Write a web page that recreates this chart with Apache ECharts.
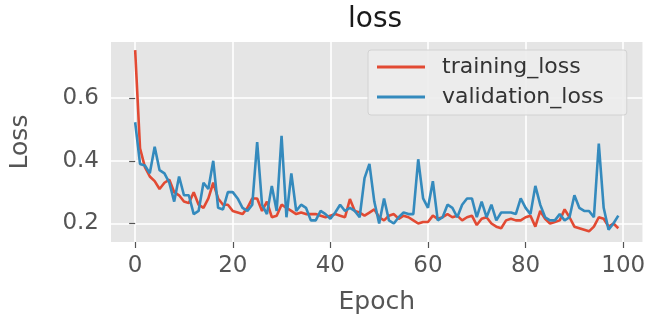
<!DOCTYPE html>
<html>
<head>
<meta charset="utf-8">
<script src="https://cdn.jsdelivr.net/npm/echarts@6/dist/echarts.min.js"></script>
<style>
  html, body { margin: 0; padding: 0; background: #fff; }
  #chart { width: 648px; height: 320px; }
</style>
</head>
<body>
<div id="chart"></div>
<script>
// epochs 0..99, values
const epochs = Array.from({ length: 100 }, (_, i) => i)

const trainingLoss = [
  0.753, 0.44, 0.38, 0.35, 0.335, 0.31, 0.33, 0.34, 0.3, 0.29,
  0.27, 0.265, 0.3, 0.26, 0.25, 0.28, 0.33, 0.28, 0.26, 0.26,
  0.24, 0.235, 0.23, 0.25, 0.28, 0.28, 0.24, 0.27, 0.22, 0.225,
  0.26, 0.25, 0.24, 0.23, 0.235, 0.23, 0.23, 0.23, 0.225, 0.22,
  0.225, 0.23, 0.225, 0.22, 0.278, 0.24, 0.235, 0.225, 0.235, 0.245,
  0.22, 0.21, 0.225, 0.23, 0.215, 0.225, 0.22, 0.21, 0.2, 0.205,
  0.205, 0.225, 0.215, 0.22, 0.23, 0.22, 0.225, 0.21, 0.22, 0.225,
  0.195, 0.215, 0.22, 0.2, 0.19, 0.185, 0.21, 0.215, 0.21, 0.21,
  0.22, 0.225, 0.19, 0.24, 0.215, 0.2, 0.205, 0.21, 0.245, 0.22,
  0.19, 0.185, 0.18, 0.175, 0.19, 0.22, 0.215, 0.19, 0.2, 0.185,
]

const validationLoss = [
  0.523, 0.39, 0.385, 0.36, 0.445, 0.37, 0.36, 0.33, 0.27, 0.35,
  0.29, 0.29, 0.23, 0.24, 0.33, 0.31, 0.4, 0.25, 0.245, 0.3,
  0.3, 0.28, 0.25, 0.24, 0.26, 0.46, 0.26, 0.23, 0.32, 0.24,
  0.48, 0.22, 0.36, 0.24, 0.26, 0.25, 0.21, 0.21, 0.24, 0.23,
  0.215, 0.235, 0.26, 0.24, 0.25, 0.24, 0.22, 0.345, 0.39, 0.27,
  0.2, 0.28, 0.21, 0.2, 0.22, 0.235, 0.23, 0.23, 0.405, 0.28,
  0.25, 0.335, 0.21, 0.22, 0.26, 0.25, 0.22, 0.26, 0.28, 0.28,
  0.22, 0.27, 0.22, 0.26, 0.21, 0.235, 0.235, 0.235, 0.23, 0.28,
  0.25, 0.23, 0.32, 0.26, 0.22, 0.21, 0.21, 0.23, 0.21, 0.22,
  0.29, 0.25, 0.24, 0.24, 0.22, 0.455, 0.25, 0.18, 0.2, 0.225,
]

const xTicks = [0, 20, 40, 60, 80, 100]
const yTicks = [0.2, 0.4, 0.6]

const font = 'DejaVu Sans'
const tickColor = '#555555'

const chart = echarts.init(document.getElementById('chart'), null, { renderer: 'canvas' })

chart.setOption({
  animation: false,
  backgroundColor: '#ffffff',
  textStyle: { fontFamily: font },
  title: {
    text: 'loss',
    left: 348,
    top: 6,
    padding: 0,
    textStyle: { fontFamily: font, fontSize: 28, fontWeight: 'normal', color: '#1a1a1a' },
  },
  legend: {
    orient: 'vertical',
    left: 368,
    top: 50,
    padding: [5, 23, 6, 9],
    itemGap: 6,
    itemWidth: 48,
    itemHeight: 3,
    icon: 'rect',
    backgroundColor: 'rgba(236,236,236,0.9)',
    borderColor: '#d2d2d2',
    borderWidth: 1,
    borderRadius: 3,
    textStyle: {
      fontFamily: font,
      fontSize: 22,
      lineHeight: 24,
      color: '#333333',
      padding: [0, 0, 0, 12],
    },
    data: ['training_loss', 'validation_loss'],
  },
  grid: {
    left: 107,
    right: 5,
    top: 42,
    bottom: 70,
    show: true,
    backgroundColor: '#e5e5e5',
    borderWidth: 0,
  },
  xAxis: {
    type: 'value',
    min: -4.95,
    max: 103.95,
    splitNumber: 5,
    name: 'Epoch',
    nameLocation: 'middle',
    nameGap: 48,
    nameTextStyle: { fontFamily: font, fontSize: 25, color: tickColor },
    axisLine: { show: false },
    axisTick: {
      show: true,
      customValues: xTicks,
      length: 6,
      lineStyle: { color: tickColor, width: 1.2 },
    },
    axisLabel: {
      customValues: xTicks,
      margin: 13,
      fontFamily: font,
      fontSize: 23,
      color: tickColor,
    },
    splitLine: { show: true, lineStyle: { color: '#ffffff', width: 1.6 } },
  },
  yAxis: {
    type: 'value',
    min: 0.141,
    max: 0.779,
    splitNumber: 3,
    name: 'Loss',
    nameLocation: 'middle',
    nameGap: 78,
    nameTextStyle: { fontFamily: font, fontSize: 25, color: tickColor },
    axisLine: { show: false },
    axisTick: {
      show: true,
      customValues: yTicks,
      length: 6,
      lineStyle: { color: tickColor, width: 1.2 },
    },
    axisLabel: {
      customValues: yTicks,
      margin: 12,
      fontFamily: font,
      fontSize: 23,
      color: tickColor,
      formatter: (v) => Number(v).toFixed(1),
    },
    splitLine: { show: true, lineStyle: { color: '#ffffff', width: 1.6 } },
  },
  series: [
    {
      name: 'training_loss',
      type: 'line',
      data: epochs.map((e, i) => [e, trainingLoss[i]]),
      symbol: 'none',
      color: '#E24A33',
      lineStyle: { color: '#E24A33', width: 2.6 },
      z: 2,
    },
    {
      name: 'validation_loss',
      type: 'line',
      data: epochs.map((e, i) => [e, validationLoss[i]]),
      symbol: 'none',
      color: '#348ABD',
      lineStyle: { color: '#348ABD', width: 2.6 },
      z: 3,
    },
  ],
})
</script>
</body>
</html>
